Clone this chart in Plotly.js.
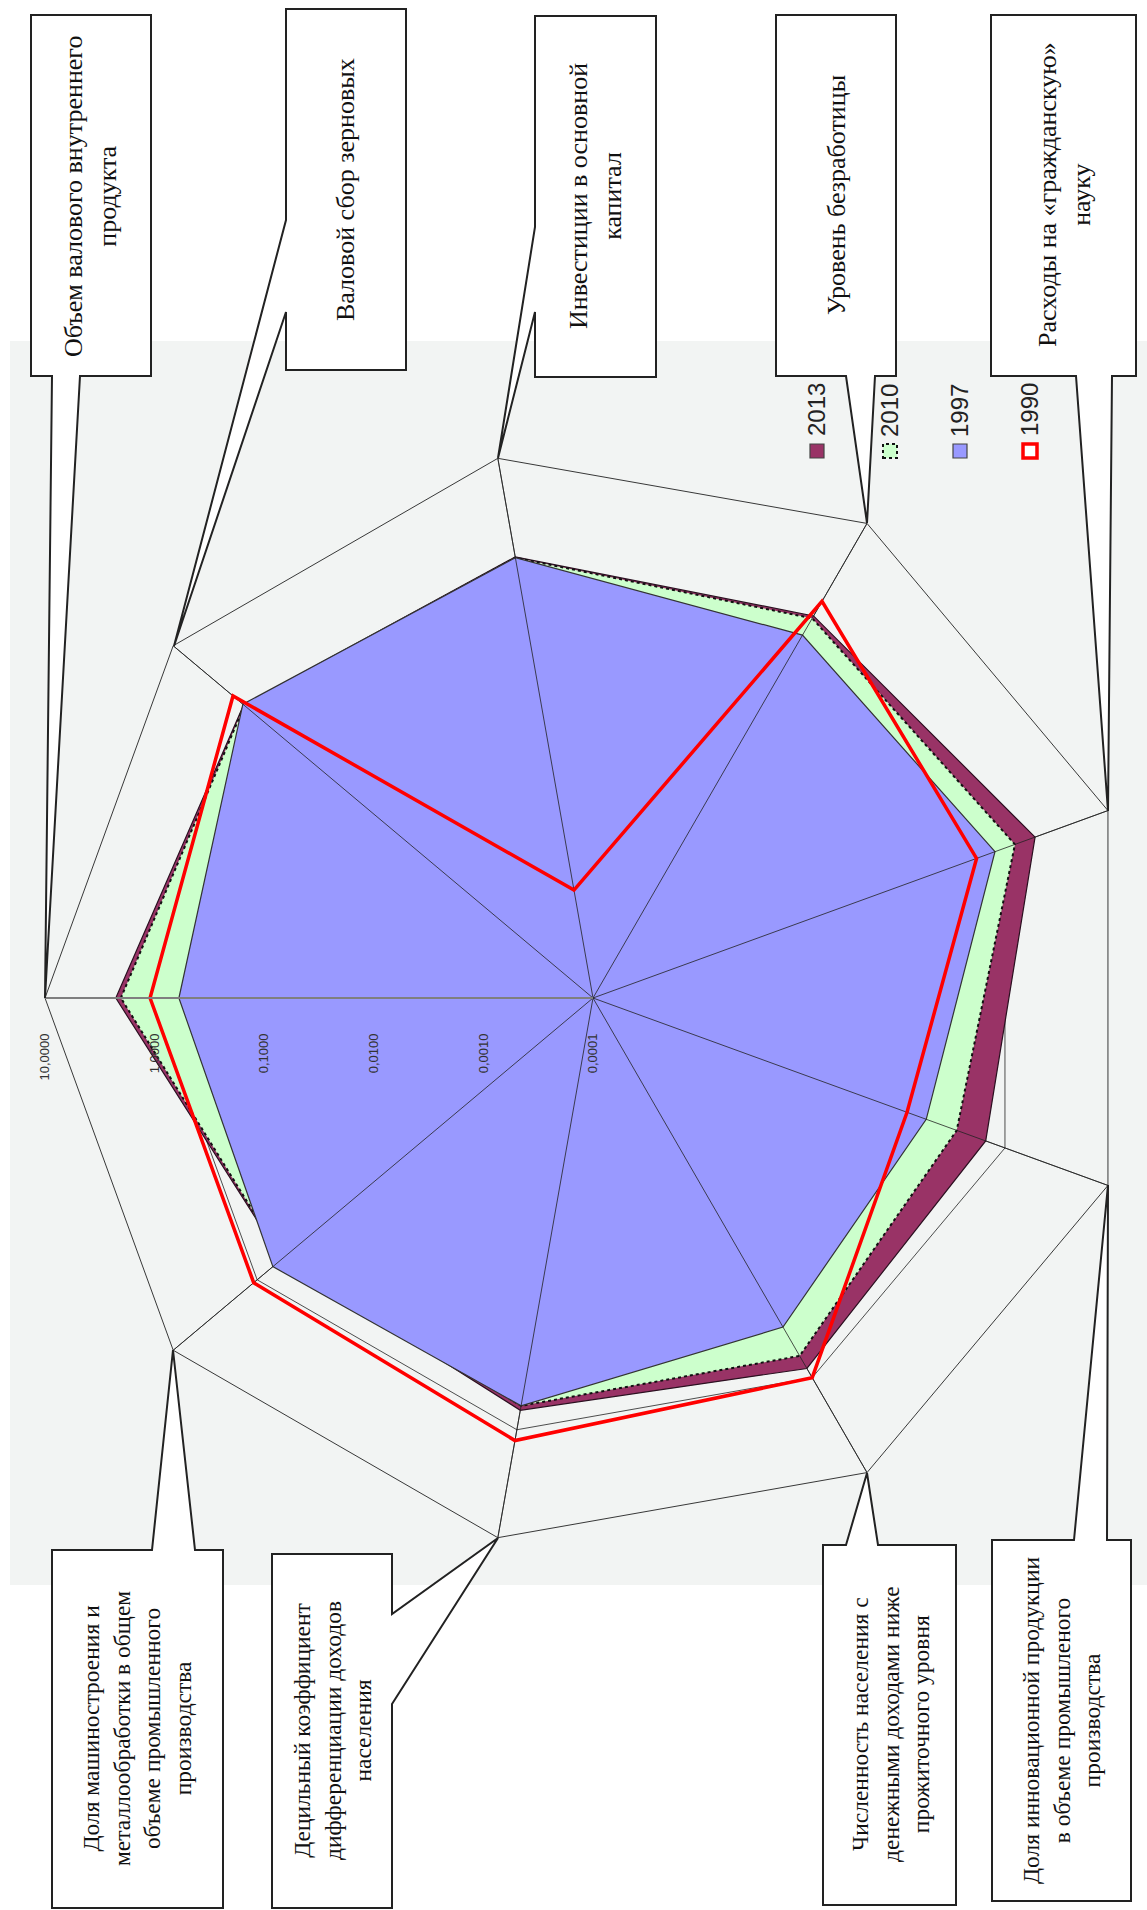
<!DOCTYPE html>
<html><head><meta charset="utf-8">
<script src="https://cdn.plot.ly/plotly-3.0.1.min.js"></script>
<style>html,body{margin:0;padding:0;background:#fff;} #chart{width:1147px;height:1910px;}</style>
</head><body><div id="chart"></div>
<script>
// ---------- DATA ----------
const categories = [
  "Объем валового внутреннего продукта",
  "Валовой сбор зерновых",
  "Инвестиции в основной капитал",
  "Уровень безработицы",
  "Расходы на «гражданскую» науку",
  "Доля инновационной продукции в объеме промышленого производства",
  "Численность населения с денежными доходами ниже прожиточного уровня",
  "Децильный коэффициент дифференциации доходов населения",
  "Доля машиностроения и металлообработки в общем объеме промышленного производства"
];
const categoryLabels = [
  "Объем валового внутреннего<br>продукта",
  "Валовой сбор зерновых",
  "Инвестиции в основной<br>капитал",
  "Уровень безработицы",
  "Расходы на «гражданскую»<br>науку",
  "Доля инновационной продукции<br>в объеме промышленого<br>производства",
  "Численность населения с<br>денежными доходами ниже<br>прожиточного уровня",
  "Децильный коэффициент<br>дифференциации доходов<br>населения",
  "Доля машиностроения и<br>металлообработки в общем<br>объеме промышленного<br>производства"
];
const seriesNames = ["2013", "2010", "1997", "1990"];
const values2013 = [2.26, 1.45, 1.22, 1.06, 1.96, 0.65, 0.80, 0.66, 0.51];
const values2010 = [2.03, 1.42, 1.20, 1.00, 1.25, 0.34, 0.59, 0.60, 0.50];
const values1997 = [0.60, 1.48, 1.20, 0.665, 0.80, 0.172, 0.293, 0.60, 0.65];
const values1990 = [1.10, 1.94, 0.001, 1.51, 0.53, 0.112, 1.00, 1.26, 1.10];
const radialTicks = [0.0001, 0.001, 0.01, 0.1, 1, 10];

// ---------- STYLE / LAYOUT ----------
const W = 1147, H = 1910;
const px = x => x / W, py = y => 1 - y / H;
const SERIF = "Liberation Serif";
const SANS = "Liberation Sans";
const styles = {
  "2013": {fill: "#993366", line: {color: "#2b1020", width: 1.2}},
  "2010": {fill: "#CCFFCC", line: {color: "#111", width: 2, dash: "dot"}},
  "1997": {fill: "#9999FF", line: {color: "#333", width: 1.2}},
  "1990": {fill: null, line: {color: "#FF0000", width: 3.5}}
};
const seriesValues = {"2013": values2013, "2010": values2010, "1997": values1997, "1990": values1990};

function closed(arr) { return arr.concat([arr[0]]); }

const traces = [];
["2013", "2010", "1997"].forEach(name => {
  const st = styles[name];
  traces.push({
    type: "scatterpolar", name: name,
    r: closed(seriesValues[name]), theta: closed(categories),
    mode: "lines", fill: "toself", fillcolor: st.fill, line: st.line,
    hoverinfo: "skip", showlegend: false
  });
});
// spokes drawn over the fills
const spokeR = [], spokeT = [];
categories.forEach(c => { spokeR.push(radialTicks[0], radialTicks[radialTicks.length - 1], null); spokeT.push(c, c, null); });
traces.push({type: "scatterpolar", r: spokeR, theta: spokeT, mode: "lines",
  line: {color: "#222", width: 0.8}, hoverinfo: "skip", showlegend: false, connectgaps: false});
traces.push({
  type: "scatterpolar", name: "1990",
  r: closed(values1990), theta: closed(categories),
  mode: "lines", line: styles["1990"].line, hoverinfo: "skip", showlegend: false
});

// callout boxes (pixel geometry), font size per box
const calloutBoxes = [
  {pts: [[31,15],[151,15],[151,376],[80,376],[45,998],[52,376],[31,376]], c: [91,197], fs: 26},
  {pts: [[286,9],[406,9],[406,370],[286,370],[286,312],[174,646],[286,220]], c: [346,190], fs: 26},
  {pts: [[535,16],[656,16],[656,377],[535,377],[535,312],[498,458],[535,227]], c: [596,196], fs: 26},
  {pts: [[776,15],[896,15],[896,376],[875,376],[867,523],[846,376],[776,376]], c: [836,195], fs: 26},
  {pts: [[991,15],[1136,15],[1136,376],[1112,376],[1108,811],[1076,376],[991,376]], c: [1064,195], fs: 26},
  {pts: [[992,1540],[1074,1540],[1108,1185],[1107,1540],[1131,1540],[1131,1901],[992,1901]], c: [1061,1720], fs: 23.5},
  {pts: [[823,1545],[846,1545],[867,1473],[878,1545],[956,1545],[956,1905],[823,1905]], c: [890,1724], fs: 23.5},
  {pts: [[272,1554],[392,1554],[392,1614],[498,1538],[392,1704],[392,1908],[272,1908]], c: [332,1731], fs: 23.5},
  {pts: [[52,1550],[152,1550],[173,1350],[195,1550],[223,1550],[223,1908],[52,1908]], c: [137,1729], fs: 23.5}
];
function pathFrom(points) { return "M" + points.map(p => px(p[0]) + "," + py(p[1])).join("L") + "Z"; }

const shapes = [
  {type: "rect", xref: "paper", yref: "paper", x0: px(10), x1: px(1147), y0: py(1585), y1: py(341),
   fillcolor: "#F2F4F3", line: {width: 0}, layer: "below"}
];
const annotations = [];
calloutBoxes.forEach((b, i) => {
  shapes.push({type: "path", xref: "paper", yref: "paper", path: pathFrom(b.pts),
    fillcolor: "#ffffff", line: {color: "#222", width: 2}, layer: "above"});
  annotations.push({xref: "paper", yref: "paper", x: px(b.c[0]), y: py(b.c[1]), text: categoryLabels[i],
    showarrow: false, textangle: -90, xanchor: "center", yanchor: "middle", align: "center",
    font: {family: SERIF, size: b.fs, color: "#111"}});
});

// legend (rotated, drawn manually)
const legendPos = [[817, 451, 410], [890, 451, 410], [960, 451, 410], [1030, 451, 410]];
seriesNames.forEach((name, i) => {
  const [x, ys, yt] = legendPos[i];
  const st = styles[name];
  const isLine = !st.fill;
  shapes.push({type: "rect", xref: "paper", yref: "paper",
    x0: px(x - 7), x1: px(x + 7), y0: py(ys + 7), y1: py(ys - 7),
    fillcolor: isLine ? "#ffffff" : st.fill,
    line: isLine ? {color: st.line.color, width: 3.5} : {color: name === "2010" ? "#111" : "#444", width: name === "2010" ? 2 : 1.2, dash: name === "2010" ? "dot" : "solid"},
    layer: "above"});
  annotations.push({xref: "paper", yref: "paper", x: px(x), y: py(yt), text: name, showarrow: false,
    textangle: -90, xanchor: "center", yanchor: "middle",
    font: {family: SANS, size: 24, color: "#222"}});
});

const layout = {
  width: W, height: H,
  margin: {l: 0, r: 0, t: 0, b: 0},
  paper_bgcolor: "#ffffff",
  separators: ", ",
  showlegend: false,
  font: {family: SANS},
  polar: {
    domain: {x: [45 / W, 1141 / W], y: [1 - 1546 / H, 1 - 450 / H]},
    bgcolor: "rgba(0,0,0,0)",
    gridshape: "linear",
    angularaxis: {
      type: "category", categoryarray: categories, rotation: 180, direction: "clockwise",
      showticklabels: false, ticks: "", showgrid: true, gridcolor: "#222", gridwidth: 0.8,
      showline: true, linecolor: "#222", linewidth: 0.9
    },
    radialaxis: {
      type: "log", range: [-4, 1], angle: 180, side: "counterclockwise", tickangle: 90,
      tickmode: "array", tickvals: radialTicks, tickformat: ".4f",
      ticks: "outside", ticklen: 30, tickcolor: "rgba(0,0,0,0)",
      showline: true, linecolor: "#7f7f7f", linewidth: 2,
      showgrid: true, gridcolor: "#222", gridwidth: 0.8,
      tickfont: {family: SANS, size: 13, color: "#333"}
    }
  },
  shapes: shapes,
  annotations: annotations
};

Plotly.newPlot("chart", traces, layout, {displayModeBar: false, staticPlot: true});
</script>
</body></html>
